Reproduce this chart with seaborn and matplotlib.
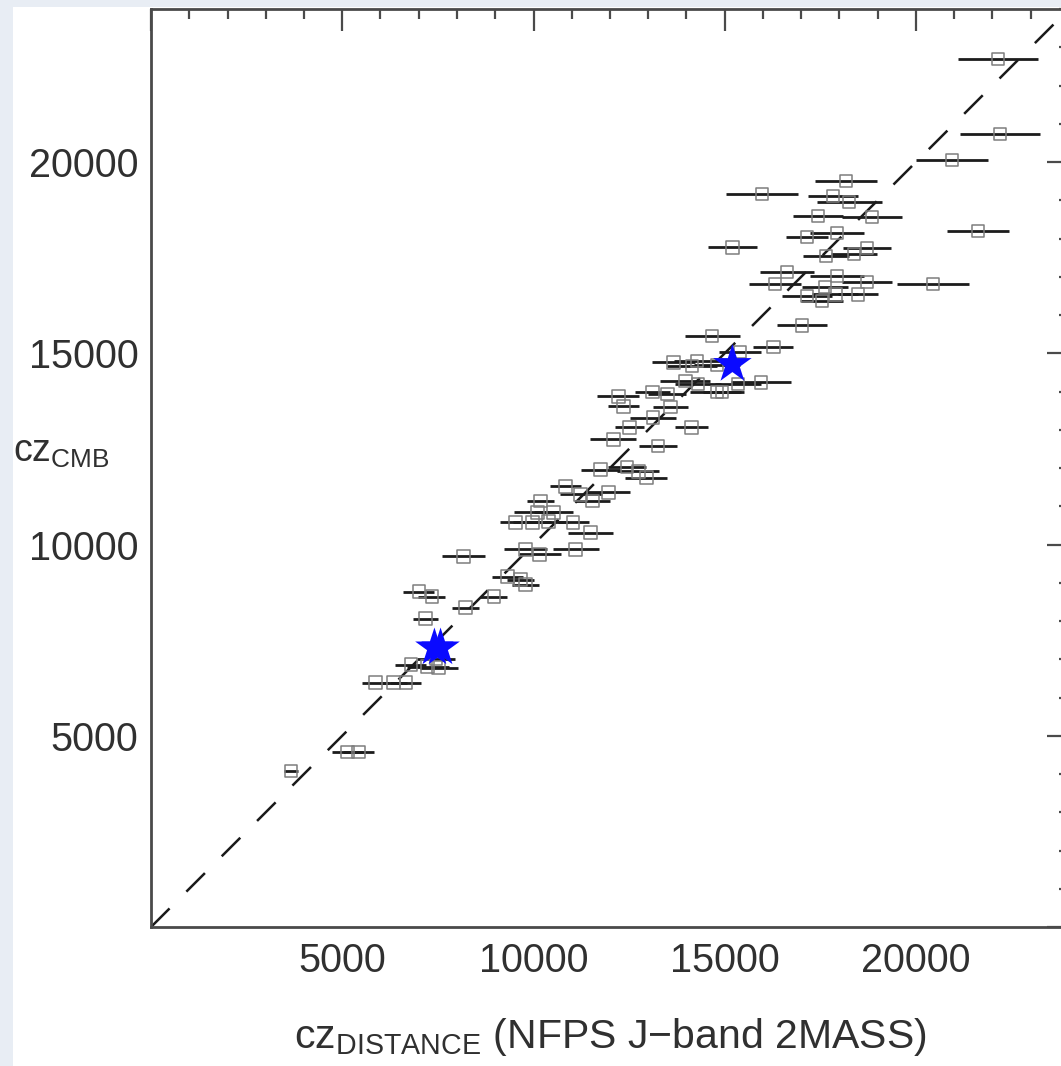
import numpy as np
import pandas as pd
import matplotlib
matplotlib.use("Agg")
import matplotlib.pyplot as plt
from matplotlib.ticker import MultipleLocator, FuncFormatter
from matplotlib.patches import Rectangle
import seaborn as sns

# ---- data ----
cz_distance = [22140, 22190, 20940, 18170, 15980, 17830, 18250, 17440, 18850, 21620,
               17150, 17940, 15200, 18720, 17650, 18380, 16630, 16320, 17940, 18720,
               20440, 17620, 17150, 17550, 18490, 17890, 17020, 14670, 16270, 15400,
               13660, 14280, 14150, 14800, 15950, 15350, 14800, 14930, 13970, 14300,
               12220, 13110, 13500, 12350, 13580, 13130, 12510, 14130, 12090, 13260,
               11750, 12450, 12740, 12950, 11960, 10840, 11540, 11230, 10180, 10100,
               10520, 9530, 9970, 10390, 11040, 11490, 8170, 9790, 10160, 11100,
               9320, 9660, 9790, 8960, 8220, 7000, 7340, 7180, 6790, 7230,
               7520, 5870, 6340, 6660, 5140, 5430, 3660, 7450]
cz_cmb = [22700, 20730, 20050, 19500, 19160, 19110, 18950, 18590, 18560, 18190,
          18040, 18140, 17770, 17750, 17540, 17590, 17120, 16810, 17020, 16860,
          16810, 16730, 16490, 16360, 16540, 16540, 15730, 15450, 15160, 15030,
          14760, 14790, 14660, 14700, 14240, 14190, 13980, 13980, 14270, 14200,
          13870, 13980, 13930, 13610, 13590, 13320, 13060, 13060, 12750, 12570,
          11960, 12020, 11910, 11750, 11360, 11520, 11130, 11310, 11130, 10840,
          10840, 10580, 10580, 10600, 10580, 10310, 9690, 9870, 9740, 9870,
          9160, 9080, 8950, 8640, 8350, 8770, 8640, 8060, 6860, 6810,
          6780, 6390, 6390, 6390, 4580, 4580, 4080, 7000]
cz_err = [1050, 1050, 940, 820, 940, 650, 850, 650, 780, 820,
          550, 700, 650, 620, 600, 600, 700, 680, 700, 650,
          940, 600, 650, 550, 520, 600, 650, 720, 520, 550,
          550, 600, 650, 600, 780, 600, 700, 500, 650, 600,
          550, 450, 500, 400, 450, 600, 370, 420, 600, 500,
          500, 500, 550, 550, 550, 400, 450, 550, 350, 600,
          500, 400, 500, 500, 400, 600, 550, 550, 550, 600,
          400, 350, 350, 350, 350, 400, 350, 330, 400, 550,
          500, 350, 350, 400, 400, 400, 180, 500]

star_x = [15200, 7410, 7570]
star_y = [14710, 7300, 7300]

diag = [0, 24000]

x_ticks = [5000, 10000, 15000, 20000]
y_ticks = [5000, 10000, 15000, 20000]

df = pd.DataFrame({"x": cz_distance, "y": cz_cmb, "err": cz_err})
stars = pd.DataFrame({"x": star_x, "y": star_y})

# ---- style ----
sns.set_theme(style="white")
plt.rcParams["font.family"] = ["Liberation Sans", "DejaVu Sans"]
plt.rcParams["mathtext.fontset"] = "custom"
plt.rcParams["mathtext.rm"] = "Liberation Sans"
plt.rcParams["mathtext.it"] = "Liberation Sans:italic"
plt.rcParams["mathtext.bf"] = "Liberation Sans:bold"

W, H = 1061, 1066
fig = plt.figure(figsize=(W / 100, H / 100), dpi=100, facecolor="#e8edf4")
# white slide panel (behind everything)
fig.patches.append(Rectangle((13 / W, 0), 1, 1 - 7 / H, transform=fig.transFigure,
                             facecolor="white", edgecolor="none", zorder=-10))

left_px, right_px, top_px, bot_px = 151, 1069, 9, 927
ax = fig.add_axes([left_px / W, 1 - bot_px / H,
                   (right_px - left_px) / W, (bot_px - top_px) / H])
ax.set_zorder(5)
ax.set_facecolor("white")

txt_col = "#303030"
ax_col = "#4a4a4a"

# identity line
sns.lineplot(x=diag, y=diag, ax=ax, color="#1a1a1a", lw=1.8, zorder=1)
ax.lines[-1].set_dashes([10.5, 9.5])

# horizontal error bars
ax.errorbar(df["x"], df["y"], xerr=df["err"], fmt="none", ecolor="#1c1c1c",
            elinewidth=2.0, capsize=0, zorder=2)

# open squares
sns.scatterplot(data=df, x="x", y="y", ax=ax, marker="s", s=80,
                facecolor="none", edgecolor="#7d7d7d", linewidth=1.1, zorder=3)

# blue stars
sns.scatterplot(data=stars, x="x", y="y", ax=ax, marker="*", s=850,
                color="#0a0aff", edgecolor="none", linewidth=0, zorder=4)

ax.set_xlim(0, 24000)
ax.set_ylim(0, 24000)

ax.xaxis.set_major_locator(MultipleLocator(5000))
ax.yaxis.set_major_locator(MultipleLocator(5000))
ax.xaxis.set_minor_locator(MultipleLocator(1000))
ax.yaxis.set_minor_locator(MultipleLocator(1000))
ax.xaxis.set_major_formatter(FuncFormatter(lambda v, p: f"{int(v)}" if int(v) in x_ticks else ""))
ax.yaxis.set_major_formatter(FuncFormatter(lambda v, p: f"{int(v)}" if int(v) in y_ticks else ""))

ax.tick_params(which="both", direction="in", top=True, right=True,
               color=ax_col, labelcolor=txt_col, labelsize=28.5)
ax.tick_params(which="major", length=15.5, width=1.6)
ax.tick_params(which="minor", length=7.5, width=1.6)
ax.tick_params(axis="x", which="major", pad=11)
ax.tick_params(axis="y", which="major", pad=9)

for sp in ax.spines.values():
    sp.set_color(ax_col)
    sp.set_linewidth(2.0)
    sp.set_visible(True)

ax.set_xlabel(r"cz$_{\mathrm{DISTANCE}}$ (NFPS J−band 2MASS)", fontsize=29.5,
              color=txt_col, labelpad=26)
ax.set_ylabel("")
fig.text(13 / W, 1 - 462 / H, r"cz$_{\mathrm{CMB}}$", fontsize=27, color=txt_col,
         ha="left", va="baseline")

fig.savefig("out.png", dpi=100, facecolor=fig.get_facecolor())
